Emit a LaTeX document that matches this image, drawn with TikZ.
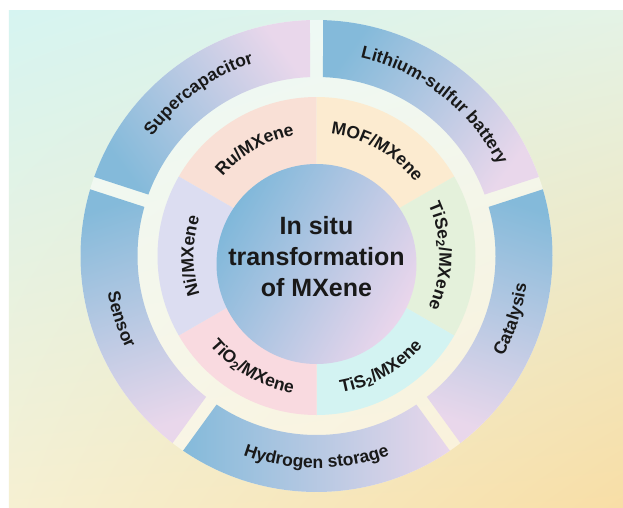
\documentclass[tikz,border=0pt]{standalone}
\usepackage{fontspec}
\setmainfont{Liberation Sans}
\usetikzlibrary{decorations.text,shadings}
\definecolor{bgcyan}{RGB}{214,244,241}
\definecolor{bgmint}{RGB}{228,243,230}
\definecolor{bgcream}{RGB}{246,240,210}
\definecolor{bgsand}{RGB}{248,222,166}
\definecolor{bandblue}{RGB}{132,186,218}
\definecolor{bandpink}{RGB}{233,215,235}
\definecolor{coreblue}{RGB}{128,184,218}
\definecolor{corepink}{RGB}{234,214,236}
\definecolor{ruc}{RGB}{249,224,214}
\definecolor{mofc}{RGB}{252,235,208}
\definecolor{tisec}{RGB}{228,241,219}
\definecolor{tisc}{RGB}{211,243,242}
\definecolor{tioc}{RGB}{249,218,224}
\definecolor{nic}{RGB}{220,221,241}
\definecolor{ink}{RGB}{25,25,25}
\newcommand{\lab}{\fontsize{17.5}{17.5}\selectfont\bfseries\color{ink}}
\begin{document}
\begin{tikzpicture}[x=1pt,y=1pt,
  arctext/.style={decorate,decoration={text along path,text align=center,text={|\lab|#1}}}]
% Page and background
\fill[white] (-316.5,-251) rectangle (306.5,256);
\shade[upper left=bgcyan,upper right=bgmint,lower left=bgcream,lower right=bgsand] (-307.5,-251) rectangle (306.5,246);
\fill[white,opacity=.5] (0,0) circle[radius=236];

% Outer ring (applications)
\foreach \a/\ang in {162/-54, 90/-126, 18/-198, -54/-90, -126/-162} {
    \shade[top color=bandpink,bottom color=bandblue,shading angle=\ang]
      ({\a-1.58}:236) arc[start angle=\a-1.58,end angle=\a-70.42,radius=236]
      -- ({\a-69.92}:179) arc[start angle=\a-69.92,end angle=\a-2.08,radius=179] -- cycle;
}
\path[arctext=Supercapacitor] (160:203) arc[start angle=160,end angle=92,radius=203];
\path[arctext={Lithium-sulfur battery}] (88:203) arc[start angle=88,end angle=16,radius=203];
\path[arctext=Catalysis] (-50:212) arc[start angle=-50,end angle=14,radius=212];
\path[arctext={Hydrogen storage}] (-124:212) arc[start angle=-124,end angle=-56,radius=212];
\path[arctext=Sensor] (164:212) arc[start angle=164,end angle=232,radius=212];

% Middle ring (composites)
\foreach \a/\c in {150/ruc, 90/mofc, 30/tisec, -30/tisc, -90/tioc, -150/nic} {
    \fill[\c] (0,0) -- (\a:159) arc[start angle=\a,end angle=\a-60,radius=159] -- cycle;
}
\path[arctext=Ru/MXene] (148:123) arc[start angle=148,end angle=92,radius=123];
\path[arctext=MOF/MXene] (88:123) arc[start angle=88,end angle=32,radius=123];
\path[arctext={TiSe{\textsubscript{2}}/MXene}] (28:123) arc[start angle=28,end angle=-28,radius=123];
\path[arctext={TiS{\textsubscript{2}}/MXene}] (-88:139) arc[start angle=-88,end angle=-32,radius=139];
\path[arctext={TiO{\textsubscript{2}}/MXene}] (-148:139) arc[start angle=-148,end angle=-92,radius=139];
\path[arctext=Ni/MXene] (208:123) arc[start angle=208,end angle=152,radius=123];

% Core
\shade[top color=corepink,bottom color=coreblue,shading angle=-120] (0,-8) circle[radius=100];
\node[font=\fontsize{25}{31}\selectfont\bfseries,text=ink,align=center] (core) at (0,-1) {In situ\\transformation\\of MXene};
\end{tikzpicture}
\end{document}
